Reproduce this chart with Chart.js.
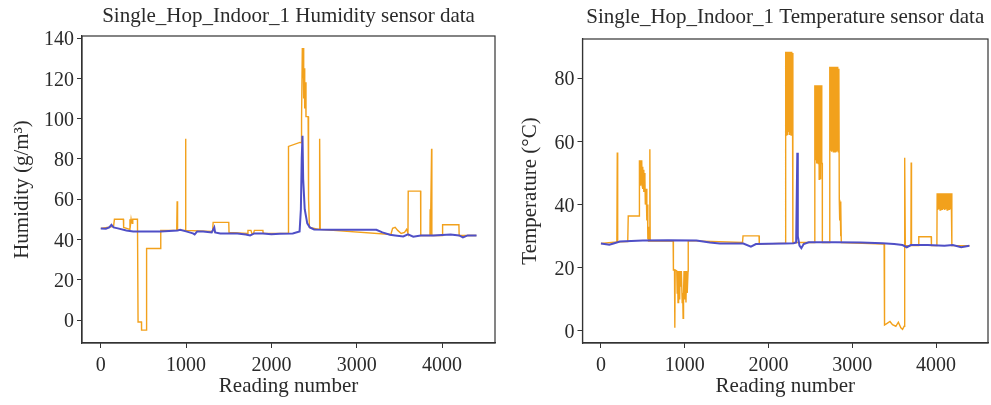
<!DOCTYPE html>
<html>
<head>
<meta charset="utf-8">
<script src="https://cdn.jsdelivr.net/npm/chart.js@4.4.1/dist/chart.umd.min.js"></script>
<style>
  html, body { margin: 0; padding: 0; background: #ffffff; }
  body { width: 991px; height: 405px; position: relative; overflow: hidden; }
  .wrap { position: absolute; top: 0; height: 405px; }
  #w1 { left: 0; width: 500px; }
  #w2 { left: 495px; width: 496px; }
</style>
</head>
<body>
<div class="wrap" id="w1"><canvas id="c1" width="500" height="405"></canvas></div>
<div class="wrap" id="w2"><canvas id="c2" width="496" height="405"></canvas></div>
<script>
// ---------- tick labels ----------
const xTicks = [0, 1000, 2000, 3000, 4000];
const humTicks = [0, 20, 40, 60, 80, 100, 120, 140];
const tempTicks = [0, 20, 40, 60, 80];

// ---------- Humidity: raw sensor readings (orange), [reading, value] ----------
const humRaw = [
  [0,45.5],[150,46.5],[160,50],[265,50],[268,46],[340,45],[342,50],[350,48],[355,50],[360,48],[365,50],[370,48],[375,50],[430,50],
  [437,-1],[477,-1],[478,-5],[535,-5],[537,35.5],[700,35.5],[703,44.5],[890,44.5],[895,59],[900,44.5],[988,44.5],[993,90],[998,44.5],
  [1310,44],[1317,48.5],[1500,48.5],[1503,43.5],[1720,43],[1725,44.5],[1760,44.5],[1770,43],[1790,43],[1800,44.5],[1900,44.5],[1903,43],
  [2196,43],[2200,86.2],[2333,88.2],[2350,88],[2353,100],[2362,135],[2368,120],[2372,135],[2378,110],[2385,125],[2390,105],[2400,118],
  [2405,101],[2415,101],[2430,101],[2435,60],[2445,46],[2560,45],[2565,90],[2572,45],[3400,42.5],[3420,45.5],[3450,46],[3480,44.5],
  [3520,43],[3560,43.5],[3584,45],[3600,43],[3603,64],[3748,64],[3750,42],[3858,42],[3860,55],[3863,42],[3877,85],[3880,42],[4000,42],
  [4006,47.3],[4197,47.3],[4200,42],[4400,42]
];

// ---------- Humidity: filtered (blue) ----------
const humFilt = [
  [0,45.5],[60,45.3],[100,46],[125,47.3],[150,46],[200,45.5],[300,44.5],[380,44],[500,44],[700,44],[900,44.5],[930,44.8],[1000,44],
  [1080,43],[1100,42.5],[1130,44],[1200,44],[1300,43.5],[1330,46],[1340,43.5],[1400,43],[1600,43],[1700,42.5],[1750,42],[1800,43],
  [1900,43],[2000,42.6],[2100,42.8],[2250,43],[2330,44],[2345,55],[2355,80],[2364,91.5],[2372,70],[2390,55],[2420,48],[2450,46],
  [2500,45],[2700,44.8],[3000,44.8],[3230,44.8],[3300,43.5],[3388,42.3],[3450,42],[3545,41.5],[3600,42.5],[3662,41.4],[3750,42],
  [3900,42],[4100,42.5],[4200,42],[4244,41],[4300,42],[4404,42]
];

// ---------- Temperature: raw sensor readings (orange) ----------
const tempRaw = [
  [0,27.7],[190,28.2],[195,56.5],[200,28.2],[320,28.3],[326,36.4],[455,36.4],
  [457,54],[462,47],[467,54],[472,46],[477,54],[482,47],[487,54],[492,46],[497,52],[502,45],[507,51],[512,44],[517,50],[525,48],
  [530,40],[540,45],[548,35],[555,40],[560,29],[564,33],[568,28.5],[580,28.5],[584,57.5],[588,28.5],
  [862,28.5],[865,19.3],[878,19.3],[882,1],[886,19.3],[905,19],[910,12],[915,19],[920,9],[925,19],[930,12],[935,19],[940,10],
  [945,19],[950,14],[960,19],[970,9],[976,12],[981,4],[986,12],[992,19],[1000,10],[1008,19],[1015,9],[1022,19],[1030,12],[1040,19],
  [1042,28.6],[1690,28],[1696,30.1],[1887,30.1],[1890,27.5],[2200,27.8],
  [2205,88.4],[2210,62],[2215,88.4],[2220,63],[2225,88.4],[2230,62],[2235,88.4],[2240,63],[2245,88.4],[2250,62],[2255,88.4],
  [2260,63],[2265,88.4],[2270,62],[2275,88.4],[2280,65],[2285,88],[2290,62],[2292,28],
  [2550,28],[2551,77.8],[2555,53],[2560,77.8],[2565,54],[2570,77.8],[2575,53],[2580,77.8],[2585,53],[2590,77.8],[2595,53],
  [2600,77.8],[2605,48],[2610,77.8],[2615,53],[2620,77.8],[2625,48],[2630,77.8],[2636,53],[2642,53],[2643,28],
  [2728,28],[2729,83.6],[2734,56.7],[2739,83.6],[2744,57],[2749,83.6],[2754,56.7],[2759,83.6],[2764,57],[2769,83.6],[2774,56.7],
  [2779,83.6],[2784,57],[2789,83.6],[2794,56.7],[2799,83.6],[2804,57],[2809,83.6],[2814,56.7],[2819,83.6],[2824,57],[2829,83.6],
  [2834,56.7],[2840,83],[2845,41.5],[2850,35],[2855,41],[2860,30],[2865,40],[2869,28],
  [3380,27.5],[3385,1.9],[3420,2.5],[3450,3],[3480,2],[3520,1.5],[3550,2.8],[3580,1],[3600,0.5],[3620,1.5],[3623,2],
  [3628,54.8],[3633,27],[3700,27],[3703,53.3],[3707,27],[3790,27],[3794,29.8],[3942,29.8],[3945,27],
  [4010,27],[4013,43.6],[4020,38.3],[4027,43.6],[4034,38.5],[4041,43.6],[4048,38.3],[4055,43.6],[4062,38.5],[4069,43.6],[4076,38.3],
  [4083,43.6],[4090,38.5],[4097,43.6],[4104,38.3],[4111,43.6],[4118,38.5],[4125,43.6],[4132,38.3],[4139,43.6],[4146,38.5],
  [4153,43.6],[4160,38.3],[4167,43.6],[4174,38.5],[4181,43.6],[4187,43],[4190,27],[4400,27]
];

// ---------- Temperature: filtered (blue) ----------
const tempFilt = [
  [0,27.7],[100,27.3],[150,27.7],[226,28.3],[500,28.6],[800,28.7],[1140,28.6],[1300,28],[1418,27.7],[1700,27.7],[1790,26.7],
  [1850,27.5],[2000,27.6],[2200,27.7],[2300,27.8],[2330,28],[2344,56.4],[2350,30],[2370,27],[2392,26.2],[2420,27.5],[2480,28.1],
  [2800,28.1],[3100,28],[3360,27.8],[3500,27.5],[3600,27.2],[3650,26.5],[3700,27.2],[3900,27.2],[4100,27],[4200,27.2],[4300,26.5],
  [4398,27]
];

const ORANGE = '#F2A11C';
const BLUE = '#4F4FC6';
const FONT = "'Liberation Serif', 'Times New Roman', serif";
const TXT = '#2a2a2a';

function pts(arr) { return arr.map(p => ({ x: p[0], y: p[1] })); }

const frame = {
  id: 'frame',
  afterDraw(chart) {
    const a = chart.chartArea, ctx = chart.ctx;
    ctx.save();
    ctx.strokeStyle = '#333';
    ctx.lineWidth = 1.2;
    ctx.strokeRect(a.left, a.top, a.right - a.left, a.bottom - a.top);
    ctx.restore();
  }
};

function makeChart(id, cfg) {
  return new Chart(document.getElementById(id), {
    type: 'line',
    data: {
      datasets: [
        { data: pts(cfg.filt), borderColor: BLUE, borderWidth: 2, pointRadius: 0, tension: 0 },
        { data: pts(cfg.raw), borderColor: ORANGE, borderWidth: 1.4, pointRadius: 0, tension: 0 }
      ]
    },
    options: {
      responsive: false,
      animation: false,
      events: [],
      layout: { padding: { left: 0, right: cfg.padRight, top: 0, bottom: 0 } },
      plugins: {
        legend: { display: false },
        tooltip: { enabled: false },
        title: {
          display: true, text: cfg.title, fullSize: false,
          color: TXT, font: { family: FONT, size: 21, weight: 'normal' },
          padding: { top: cfg.titleTop, bottom: cfg.titleBottom }
        }
      },
      scales: {
        x: {
          type: 'linear', min: -220, max: 4620,
          afterBuildTicks: s => { s.ticks = xTicks.map(v => ({ value: v })); },
          afterFit: s => { s.height = 62; },
          ticks: { color: TXT, font: { family: FONT, size: 20 }, padding: 6, maxRotation: 0, autoSkip: false, callback: v => String(v) },
          grid: { display: true, drawOnChartArea: false, drawTicks: true, tickLength: 5, color: '#333', lineWidth: 1 },
          border: { display: true, color: '#333', width: 1.2 },
          title: { display: true, text: 'Reading number', color: TXT, font: { family: FONT, size: 21 }, padding: { top: 0, bottom: 6 } }
        },
        y: {
          type: 'linear', min: cfg.ymin, max: cfg.ymax,
          afterBuildTicks: s => { s.ticks = cfg.yt.map(v => ({ value: v })); },
          afterFit: s => { s.width = cfg.yw; },
          ticks: { color: TXT, font: { family: FONT, size: 20 }, padding: 3, labelOffset: 2, autoSkip: false, callback: v => String(v) },
          grid: { display: true, drawOnChartArea: false, drawTicks: true, tickLength: 5, color: '#333', lineWidth: 1 },
          border: { display: true, color: '#333', width: 1.2 },
          title: { display: true, text: cfg.ytitle, color: TXT, font: { family: FONT, size: 21 }, padding: { top: cfg.ytPad, bottom: 0 } }
        }
      }
    },
    plugins: [frame]
  });
}

makeChart('c1', {
  title: 'Single_Hop_Indoor_1 Humidity sensor data',
  ytitle: 'Humidity (g/m\u00B3)',
  raw: humRaw, filt: humFilt,
  ymin: -11.4, ymax: 141, yt: humTicks, yw: 82, padRight: 5,
  titleTop: 4, titleBottom: 6.8, ytPad: 9.4
});

makeChart('c2', {
  title: 'Single_Hop_Indoor_1 Temperature sensor data',
  ytitle: 'Temperature (\u00B0C)',
  raw: tempRaw, filt: tempFilt,
  ymin: -3.8, ymax: 92.4, yt: tempTicks, yw: 87.5, padRight: 3,
  titleTop: 5, titleBottom: 8.8, ytPad: 23
});
</script>
</body>
</html>
